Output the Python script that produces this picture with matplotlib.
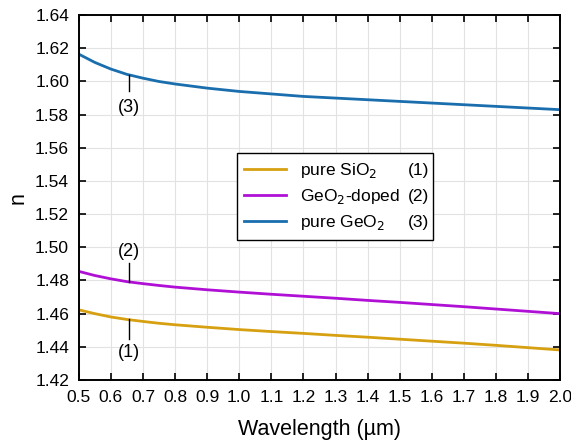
import numpy as np
import matplotlib
matplotlib.use('Agg')
import matplotlib.pyplot as plt
from matplotlib.lines import Line2D

plt.rcParams['font.family'] = ['Liberation Sans', 'DejaVu Sans']

# DATA
wavelength = [0.5, 0.55, 0.6, 0.65, 0.7, 0.75, 0.8, 0.9, 1.0, 1.1, 1.2, 1.3, 1.4,
              1.5, 1.6, 1.7, 1.8, 1.9, 2.0]
n_sio2 = [1.4623, 1.4600, 1.4580, 1.4565, 1.4553, 1.4542, 1.4533, 1.4518, 1.4504,
          1.4492, 1.4481, 1.4469, 1.4458, 1.4446, 1.4434, 1.4422, 1.4409, 1.4395, 1.4381]
n_doped = [1.4855, 1.4830, 1.4810, 1.4793, 1.4781, 1.4770, 1.4760, 1.4744, 1.4730,
           1.4717, 1.4705, 1.4693, 1.4680, 1.4668, 1.4655, 1.4642, 1.4628, 1.4614, 1.4600]
n_geo2 = [1.6165, 1.6115, 1.6075, 1.6043, 1.6020, 1.6000, 1.5985, 1.5960, 1.5940,
          1.5925, 1.5910, 1.5900, 1.5890, 1.5880, 1.5870, 1.5860, 1.5850, 1.5840, 1.5830]
names = ['pure SiO$_2$', 'GeO$_2$-doped', 'pure GeO$_2$']
tags = ['(1)', '(2)', '(3)']
colors = ['#D6A010', '#B010D6', '#1A6EAE']

W, H = 571, 446
fig = plt.figure(figsize=(W / 100, H / 100), dpi=100)
ax = fig.add_axes([0.138, 0.148, 0.843, 0.818])

lines = []
for y, c in zip([n_sio2, n_doped, n_geo2], colors):
    l, = ax.plot(wavelength, y, color=c, lw=2)
    lines.append(l)

# curve markers with labels
ax.plot([0.655, 0.655], [1.4565, 1.4450], color='k', lw=1)
ax.text(0.655, 1.4363, '(1)', ha='center', va='center', fontsize=13)
ax.plot([0.655, 0.655], [1.4790, 1.4905], color='k', lw=1)
ax.text(0.655, 1.4975, '(2)', ha='center', va='center', fontsize=13)
ax.plot([0.655, 0.655], [1.6040, 1.5945], color='k', lw=1)
ax.text(0.655, 1.5845, '(3)', ha='center', va='center', fontsize=13)

ax.set_xlim(0.5, 2.0)
ax.set_ylim(1.42, 1.64)
ax.set_xticks(np.arange(0.5, 2.001, 0.1))
ax.set_yticks(np.arange(1.42, 1.6401, 0.02))
ax.xaxis.set_major_formatter(plt.FormatStrFormatter('%.1f'))
ax.yaxis.set_major_formatter(plt.FormatStrFormatter('%.2f'))
ax.tick_params(direction='in', top=True, right=True, length=5, width=1.2,
               labelsize=12.5, pad=7)
ax.grid(True, color='#E2E2E2', lw=0.8)
for s in ax.spines.values():
    s.set_linewidth(1.4)

ax.set_xlabel('Wavelength (\u00b5m)', fontsize=15.5, labelpad=10)
ax.set_ylabel('n', fontsize=15.5, labelpad=5)

# legend: names in column 1, an empty column 2 leaves room for the (n) tags
blank = [Line2D([], [], color='none') for _ in tags]
leg = ax.legend(lines + blank, names + ['', '', ''], ncol=2, loc='upper left',
                bbox_to_anchor=(0.328, 0.621), borderaxespad=0, fontsize=12.5,
                fancybox=False, edgecolor='k', framealpha=1,
                handlelength=2.4, handletextpad=0.8, columnspacing=-1.77,
                labelspacing=0.4, borderpad=0.45)
leg.get_frame().set_linewidth(1.0)

fig.canvas.draw()
box = leg.get_frame().get_window_extent()
for t, tag in zip(leg.get_texts()[:3], tags):
    x0, y0 = t.get_transform().transform(t.get_position())
    fig.text((box.x1 - 4) / W, y0 / H, tag, ha='right', va='baseline', fontsize=12.5)

plt.savefig('out.png', dpi=100)
